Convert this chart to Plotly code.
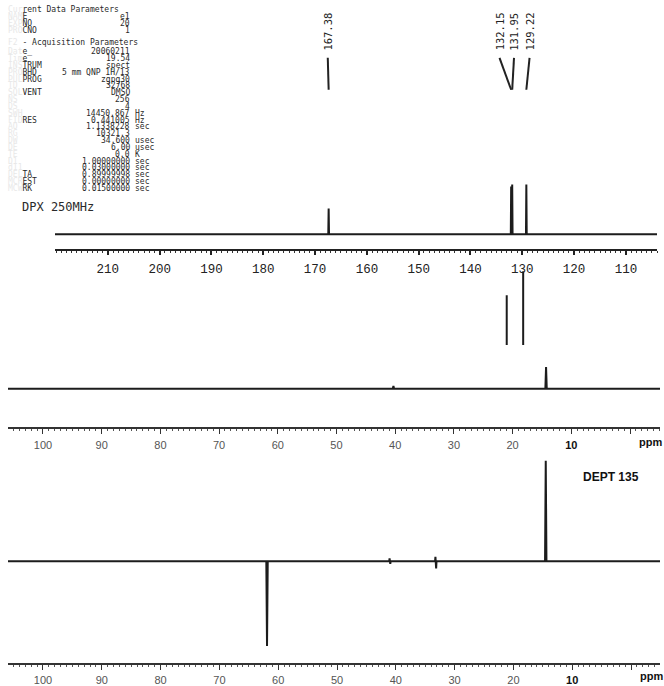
import plotly.graph_objects as go

# ---------------- data ----------------
# 13C spectrum (upper strip, 220-104 ppm)
c13_range = [220.2, 104.0]
c13_peaks_ppm = [167.38, 132.15, 131.95, 129.22]
c13_heights = [52, 96, 100, 100]
c13_labels = ["167.38", "132.15", "131.95", "129.22"]
c13_ticks = [210, 200, 190, 180, 170, 160, 150, 140, 130, 120, 110]

# 13C spectrum (middle strip, 106 to -5 ppm)
mid_range = [105.96, -5.11]
mid_peaks_ppm = [40.3, 14.3]
mid_heights = [6, 44]
mid_cut_ppm = [21.0, 18.2]          # clipped peak segments pasted in the strip
mid_cut_top = [188, 236]
mid_cut_bottom = [88, 88]

# DEPT 135 (lower strip)
dept_range = [105.95, -4.93]
dept_peaks_ppm = [61.9, 14.5]
dept_heights = [-170, 202]
dept_artifact_ppm = [41.0, 33.2]
dept_artifact_up = [6, 9]
dept_artifact_down = [-5, -14]

ppm_ticks = [100, 90, 80, 70, 60, 50, 40, 30, 20, 10, 0]

# acquisition parameter printout
param_header = "Current Data Parameters"
top_labels = ["NAME", "EXPNO", "PROCNO"]
top_values = ["e1", "20", "1"]
acq_title = "F2 - Acquisition Parameters"
acq_labels = ["Date_", "Time", "INSTRUM", "PROBHD", "PULPROG", "TD", "SOLVENT",
              "NS", "DS", "SWH", "FIDRES", "AQ", "RG", "DW", "DE", "TE", "D1",
              "d11", "DELTA", "MCREST", "MCWRK"]
acq_values = ["20060211", "19.54", "spect", "5 mm QNP 1H/13", "zgpg30", "32768",
              "DMSO", "256", "4", "14450.867", "0.441005", "1.1338228", "10321.3",
              "34.600", "6.00", "0.0", "1.00000000", "0.03000000", "0.89999998",
              "0.00000000", "0.01500000"]
acq_units = ["", "", "", "", "", "", "", "", "", "Hz", "Hz", "sec", "", "usec",
             "usec", "K", "sec", "sec", "sec", "sec", "sec"]
instrument = "DPX 250MHz"

# ---------------- helpers ----------------
W, H = 664, 686
def fx(px): return px / W
def fy(py): return 1 - py / H

def stick_trace(lo_hi, ppm, groups, w):
    hi, lo = lo_hi
    items = sorted(zip(ppm, groups), key=lambda t: -t[0])
    xs, ys = [hi], [0]
    for p, vals in items:
        n = len(vals)
        xs.append(p + w); ys.append(0)
        for k, v in enumerate(vals):
            off = 0 if n == 1 else w * (0.5 - k / (n - 1))
            xs.append(p + off); ys.append(v)
        xs.append(p - w); ys.append(0)
    xs.append(lo); ys.append(0)
    return xs, ys

LINE = '#1c1c1c'
fig = go.Figure()

# upper strip
tx, ty = stick_trace(c13_range, c13_peaks_ppm, [[h] for h in c13_heights], 0.07)
fig.add_trace(go.Scatter(x=tx, y=ty, mode='lines', line=dict(color=LINE, width=2),
                         xaxis='x', yaxis='y', hoverinfo='skip', showlegend=False))

# peak labels + leader lines
label_x = [167.55, 134.4, 131.6, 128.6]
for lab, lx, p in zip(c13_labels, label_x, c13_peaks_ppm):
    fig.add_trace(go.Scatter(x=[lx, p], y=[354, 290], mode='lines',
                             line=dict(color='#222', width=2), xaxis='x', yaxis='y',
                             hoverinfo='skip', showlegend=False))
    fig.add_annotation(x=lx, y=364, xref='x', yref='y', text=lab, showarrow=False,
                       textangle=-90, xanchor='center', yanchor='bottom',
                       font=dict(family='DejaVu Sans Mono', size=10.5, color='#222'))

# middle strip
mx, my = stick_trace(mid_range, mid_peaks_ppm, [[h] for h in mid_heights], 0.12)
fig.add_trace(go.Scatter(x=mx, y=my, mode='lines', line=dict(color=LINE, width=2),
                         xaxis='x2', yaxis='y2', hoverinfo='skip', showlegend=False))
cx, cy = [], []
for p, t, b in zip(mid_cut_ppm, mid_cut_top, mid_cut_bottom):
    cx += [p, p, None]; cy += [b, t, None]
fig.add_trace(go.Scatter(x=cx, y=cy, mode='lines', line=dict(color=LINE, width=2),
                         xaxis='x2', yaxis='y2', hoverinfo='skip', showlegend=False))

# DEPT strip
d_ppm = dept_peaks_ppm + dept_artifact_ppm
d_groups = [[h] for h in dept_heights] + [[u, d] for u, d in zip(dept_artifact_up, dept_artifact_down)]
dx, dy = stick_trace(dept_range, d_ppm, d_groups, 0.12)
fig.add_trace(go.Scatter(x=dx, y=dy, mode='lines', line=dict(color=LINE, width=2),
                         xaxis='x3', yaxis='y3', hoverinfo='skip', showlegend=False))

# ---------------- parameter text ----------------
NB = '\u00a0'
FAINT = '#e8e8e8'
DARK = '#2a2a2a'
PFONT = dict(family='DejaVu Sans Mono', size=8, color=DARK)

def faint_split(s, k=3):
    s = s.replace(' ', NB)
    return f"<span style=\"color:{FAINT}\">{s[:k]}</span>{s[k:]}"

def ann(text, xpx, ypx, anchor='left', font=PFONT):
    fig.add_annotation(x=fx(xpx), y=fy(ypx), xref='paper', yref='paper', text=text,
                       showarrow=False, xanchor=anchor, yanchor='middle', font=font,
                       borderpad=0)

def add_param(label, value, unit, ypx):
    ann(faint_split(label), 7, ypx)
    ann(value.replace(' ', NB), 131, ypx, anchor='right')
    if unit:
        ann(unit, 134, ypx)

ann(faint_split(param_header), 7, 10)
for i, (l, v) in enumerate(zip(top_labels, top_values)):
    add_param(l, v, '', 16.5 + i * 6.8)
ann(faint_split(acq_title), 7, 43)
for i, (l, v, u) in enumerate(zip(acq_labels, acq_values, acq_units)):
    add_param(l, v, u, 52 + i * 6.85)
ann(instrument.replace(' ', NB), 21, 208,
    font=dict(family='DejaVu Sans Mono', size=12, color=DARK))

# strip texts
ann('<b>DEPT' + NB + '135</b>', 611, 478, anchor='center',
    font=dict(family='Liberation Sans', size=12, color='#111'))
for ax, ypx in (('x2', 443), ('x3', 678)):
    fig.add_annotation(x=-3.5, y=fy(ypx), xref=ax, yref='paper', text='<b>ppm</b>',
                       showarrow=False, xanchor='center', yanchor='middle',
                       font=dict(family='Liberation Sans', size=11, color='#111'))

# ---------------- axes ----------------
def low_ticktext(vals):
    out = []
    for v in vals:
        if v == 0:
            out.append('')
        elif v == 10:
            out.append(f"<b><span style=\"color:#111\">{v}</span></b>")
        else:
            out.append(str(v))
    return out

common_x = dict(showgrid=False, zeroline=False, showline=True, ticks='outside')

fig.update_layout(
    width=W, height=H, margin=dict(l=0, r=0, t=0, b=0),
    paper_bgcolor='white', plot_bgcolor='rgba(0,0,0,0)', showlegend=False,
    xaxis=dict(**common_x, domain=[fx(55), fx(657)], range=c13_range, anchor='y',
               linecolor='#222', linewidth=2, ticklen=4, tickwidth=1.5, tickcolor='#222',
               tickmode='array', tickvals=c13_ticks, ticktext=[str(t) for t in c13_ticks],
               tickfont=dict(family='Liberation Mono', size=12.5, color='#222'),
               ticklabelstandoff=3,
               minor=dict(tickmode='linear', tick0=0, dtick=1, ticks='outside',
                          ticklen=2, tickwidth=1, tickcolor='#333')),
    yaxis=dict(domain=[fy(250), 1], range=[-30, 470], visible=False),
    xaxis2=dict(**common_x, domain=[fx(8), fx(660)], range=mid_range, anchor='y2',
                linecolor='#333', linewidth=1.5, ticklen=5, tickwidth=1.2, tickcolor='#333',
                tickmode='array', tickvals=ppm_ticks, ticktext=low_ticktext(ppm_ticks),
                tickfont=dict(family='Liberation Sans', size=11, color='#555'),
                ticklabelstandoff=2,
                minor=dict(tickmode='linear', tick0=0, dtick=1, ticks='outside',
                           ticklen=2, tickwidth=1, tickcolor='#555')),
    yaxis2=dict(domain=[fy(428), fy(265)], range=[-76, 250], visible=False),
    xaxis3=dict(**common_x, domain=[fx(8), fx(660)], range=dept_range, anchor='y3',
                linecolor='#333', linewidth=1.5, ticklen=5, tickwidth=1.2, tickcolor='#333',
                tickmode='array', tickvals=ppm_ticks, ticktext=low_ticktext(ppm_ticks),
                tickfont=dict(family='Liberation Sans', size=11, color='#555'),
                ticklabelstandoff=1,
                minor=dict(tickmode='linear', tick0=0, dtick=1, ticks='outside',
                           ticklen=2, tickwidth=1, tickcolor='#555')),
    yaxis3=dict(domain=[fy(665), fy(450)], range=[-204, 226], visible=False),
)

# remove the browser's default 8px page margin so the figure fills the window
fig.write_html("out.html", config={'displayModeBar': False},
               post_script="document.body.style.margin='0';document.body.style.overflow='hidden';")
